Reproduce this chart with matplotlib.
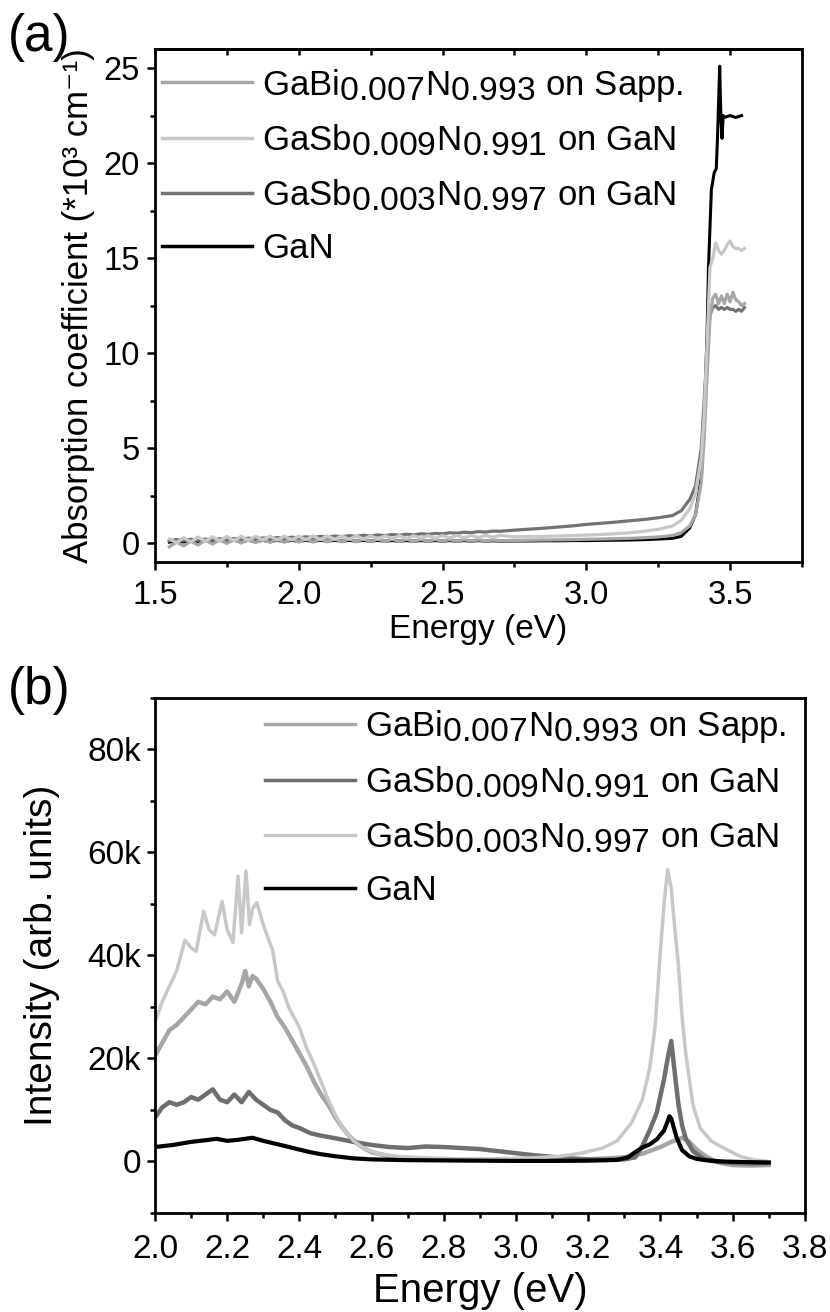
import numpy as np
import matplotlib
matplotlib.use("Agg")
import matplotlib.pyplot as plt
import matplotlib._mathtext as mtext
from matplotlib.ticker import MultipleLocator, FuncFormatter

# near full-size subscripts, like the Origin export
mtext.SHRINK_FACTOR = 0.97

plt.rcParams['font.family'] = ['Liberation Sans', 'DejaVu Sans']
plt.rcParams['mathtext.fontset'] = 'custom'
plt.rcParams['mathtext.rm'] = 'Liberation Sans'
plt.rcParams['mathtext.it'] = 'Liberation Sans:italic'
plt.rcParams['mathtext.bf'] = 'Liberation Sans:bold'
plt.rcParams['axes.linewidth'] = 2.0

################################################
########## (a) absorption coefficient ##########
################################################
E_LOW = [1.55, 1.575, 1.60, 1.625, 1.65, 1.675, 1.70, 1.725, 1.75, 1.775, 1.80, 1.825,
         1.85, 1.875, 1.90, 1.925, 1.95, 1.975, 2.00, 2.025, 2.05, 2.075, 2.10, 2.125,
         2.15, 2.175, 2.20, 2.225, 2.25, 2.275, 2.30, 2.325, 2.35, 2.375, 2.40, 2.425,
         2.45, 2.475, 2.50, 2.525, 2.55, 2.575, 2.60, 2.625, 2.65, 2.675, 2.70,
         2.75, 2.80, 2.85, 2.90, 2.95, 3.00, 3.05, 3.10, 3.15, 3.20, 3.25, 3.30]

bi_low = [-0.20, 0.05, -0.15, 0.10, -0.10, 0.15, -0.05, 0.18, -0.02, 0.20, 0.00, 0.22,
          0.02, 0.22, 0.03, 0.22, 0.04, 0.22, 0.05, 0.22, 0.05, 0.22, 0.06, 0.22,
          0.06, 0.22, 0.07, 0.21, 0.07, 0.21, 0.08, 0.20, 0.08, 0.20, 0.09, 0.19,
          0.09, 0.19, 0.10, 0.18, 0.10, 0.18, 0.11, 0.17, 0.11, 0.16, 0.12,
          0.14, 0.15, 0.16, 0.17, 0.18, 0.20, 0.21, 0.23, 0.25, 0.28, 0.32, 0.40]
sb9_low = [0.22, 0.02, 0.28, 0.06, 0.32, 0.08, 0.34, 0.10, 0.35, 0.12, 0.36, 0.13,
           0.36, 0.14, 0.37, 0.15, 0.37, 0.16, 0.37, 0.17, 0.38, 0.18, 0.38, 0.19,
           0.38, 0.20, 0.38, 0.21, 0.38, 0.22, 0.38, 0.23, 0.39, 0.24, 0.39, 0.25,
           0.39, 0.26, 0.40, 0.27, 0.40, 0.28, 0.40, 0.29, 0.40, 0.30, 0.40,
           0.33, 0.34, 0.35, 0.37, 0.39, 0.42, 0.45, 0.49, 0.54, 0.62, 0.72, 0.90]
sb3_low = [0.12, 0.18, 0.13, 0.20, 0.15, 0.21, 0.16, 0.23, 0.18, 0.24, 0.19, 0.26,
           0.21, 0.27, 0.23, 0.29, 0.25, 0.31, 0.27, 0.33, 0.29, 0.35, 0.31, 0.37,
           0.33, 0.39, 0.35, 0.41, 0.37, 0.43, 0.39, 0.45, 0.41, 0.47, 0.43, 0.49,
           0.46, 0.51, 0.49, 0.54, 0.52, 0.57, 0.55, 0.60, 0.58, 0.63, 0.62,
           0.68, 0.73, 0.78, 0.84, 0.90, 0.98, 1.04, 1.10, 1.17, 1.24, 1.33, 1.45]
gan_low = [0.05, 0.12, 0.06, 0.13, 0.07, 0.13, 0.07, 0.14, 0.08, 0.14, 0.08, 0.14,
           0.09, 0.14, 0.09, 0.14, 0.09, 0.14, 0.10, 0.14, 0.10, 0.14, 0.10, 0.14,
           0.10, 0.14, 0.10, 0.14, 0.10, 0.14, 0.10, 0.13, 0.10, 0.13, 0.10, 0.13,
           0.10, 0.13, 0.10, 0.13, 0.10, 0.13, 0.10, 0.13, 0.10, 0.12, 0.10,
           0.11, 0.11, 0.12, 0.12, 0.13, 0.13, 0.14, 0.15, 0.16, 0.18, 0.21, 0.25]

E_BI_EDGE = [3.33, 3.36, 3.38, 3.40, 3.41, 3.42, 3.43, 3.44, 3.45, 3.46, 3.47, 3.48,
             3.49, 3.50, 3.51, 3.52, 3.53, 3.54, 3.55]
bi_edge = [0.55, 0.9, 1.5, 3.2, 5.5, 8.8, 11.8, 12.9, 13.1, 12.6, 13.0, 12.6,
           13.1, 12.7, 13.2, 12.8, 12.7, 12.5, 12.6]
E_SB9_EDGE = [3.33, 3.36, 3.38, 3.40, 3.41, 3.42, 3.43, 3.44, 3.45, 3.46, 3.47, 3.48,
              3.49, 3.50, 3.51, 3.52, 3.53, 3.54, 3.55]
sb9_edge = [1.2, 1.8, 2.6, 4.5, 6.8, 10.5, 14.5, 15.0, 15.8, 15.4, 15.2, 15.4,
            15.7, 15.9, 15.6, 15.5, 15.5, 15.4, 15.5]
E_SB3_EDGE = [3.33, 3.36, 3.38, 3.40, 3.41, 3.42, 3.43, 3.44, 3.45, 3.46, 3.47, 3.48,
              3.49, 3.50, 3.51, 3.52, 3.53, 3.54, 3.55]
sb3_edge = [1.7, 2.3, 3.0, 5.0, 7.5, 10.0, 12.0, 12.4, 12.5, 12.3, 12.4, 12.3,
            12.4, 12.3, 12.3, 12.2, 12.3, 12.2, 12.4]
E_GAN_EDGE = [3.33, 3.36, 3.38, 3.40, 3.41, 3.42, 3.425, 3.435, 3.445, 3.452, 3.456,
              3.464, 3.468, 3.472, 3.476, 3.48, 3.50, 3.52, 3.54]
gan_edge = [0.35, 0.8, 1.5, 3.5, 6.5, 11.0, 14.5, 18.6, 19.5, 19.7, 21.2,
            25.1, 22.4, 21.3, 22.5, 22.4, 22.5, 22.4, 22.5]

################################################
############### (b) PL spectra #################
################################################
E_BI_PL = [2.00, 2.02, 2.04, 2.06, 2.08, 2.10, 2.12, 2.14, 2.16, 2.18, 2.20, 2.22,
           2.24, 2.25, 2.26, 2.27, 2.28, 2.30, 2.32, 2.34, 2.36, 2.38, 2.40, 2.42,
           2.44, 2.46, 2.48, 2.50, 2.52, 2.54, 2.56, 2.58, 2.60, 2.65, 2.70, 2.80,
           2.90, 3.00, 3.10, 3.20, 3.30, 3.35, 3.40, 3.43, 3.46, 3.48, 3.50, 3.53,
           3.56, 3.60, 3.65, 3.70]
bi_pl = [20.5, 23.0, 25.5, 26.5, 28.0, 29.5, 31.0, 30.5, 32.0, 31.5, 33.0, 31.0,
         34.5, 37.0, 34.0, 36.0, 35.5, 33.5, 31.0, 28.0, 26.0, 23.5, 21.0, 18.5,
         15.5, 13.0, 11.0, 8.5, 6.5, 4.8, 3.5, 2.5, 1.8, 1.0, 0.6, 0.4,
         0.3, 0.3, 0.3, 0.4, 0.8, 1.5, 2.8, 3.8, 4.6, 3.8, 2.3, 0.8,
         -0.2, -0.7, -0.8, -0.7]
E_SB9_PL = [2.00, 2.02, 2.04, 2.06, 2.08, 2.10, 2.12, 2.14, 2.16, 2.18, 2.20, 2.22,
            2.24, 2.26, 2.28, 2.30, 2.32, 2.34, 2.36, 2.38, 2.40, 2.43, 2.46, 2.50,
            2.55, 2.60, 2.65, 2.70, 2.75, 2.80, 2.85, 2.90, 2.95, 3.00, 3.05, 3.10,
            3.15, 3.20, 3.25, 3.30, 3.33, 3.35, 3.37, 3.39, 3.41, 3.42, 3.43, 3.44,
            3.45, 3.46, 3.47, 3.49, 3.52, 3.55, 3.60, 3.65, 3.70]
sb9_pl = [8.5, 10.5, 11.5, 11.0, 11.5, 12.5, 12.0, 13.0, 14.0, 12.0, 11.5, 13.0,
          11.5, 13.5, 12.0, 11.0, 10.0, 9.5, 8.0, 7.0, 6.5, 5.5, 5.0, 4.5,
          3.8, 3.2, 2.8, 2.6, 2.9, 2.8, 2.6, 2.4, 2.0, 1.6, 1.2, 0.9,
          0.6, 0.4, 0.3, 0.4, 0.8, 3.0, 6.0, 9.5, 16.0, 20.0, 23.4, 17.0,
          11.0, 7.0, 4.5, 2.0, 0.5, 0.0, -0.3, -0.4, -0.3]
E_SB3_PL = [2.00, 2.02, 2.04, 2.06, 2.083, 2.10, 2.114, 2.135, 2.15, 2.165, 2.186, 2.20,
            2.216, 2.23, 2.24, 2.252, 2.262, 2.27, 2.282, 2.30, 2.315, 2.326, 2.34, 2.355,
            2.37, 2.385, 2.40, 2.42, 2.44, 2.46, 2.48, 2.50, 2.52, 2.55, 2.58, 2.62,
            2.67, 2.75, 2.85, 2.95, 3.05, 3.12, 3.18, 3.24, 3.28, 3.32, 3.35, 3.37,
            3.385, 3.40, 3.41, 3.42, 3.43, 3.44, 3.45, 3.46, 3.47, 3.49, 3.51, 3.54,
            3.57, 3.62, 3.66, 3.70]
sb3_pl = [27.0, 31.0, 34.0, 37.0, 43.0, 41.5, 40.8, 48.6, 45.0, 44.0, 50.5, 45.0,
          42.5, 55.4, 44.4, 56.4, 46.0, 49.0, 50.3, 46.0, 43.0, 41.0, 35.0, 33.0,
          30.0, 28.0, 26.0, 22.0, 19.0, 15.5, 12.0, 9.0, 6.5, 4.0, 2.5, 1.5,
          1.0, 0.7, 0.5, 0.5, 0.7, 1.0, 1.6, 2.6, 4.0, 7.5, 12.0, 18.0,
          26.0, 41.0, 50.0, 56.7, 53.0, 45.0, 38.0, 28.0, 21.0, 11.0, 6.5, 4.0,
          2.8, 1.0, 0.3, 0.0]
E_GAN_PL = [2.00, 2.05, 2.10, 2.15, 2.17, 2.20, 2.23, 2.27, 2.30, 2.33, 2.36, 2.40,
            2.43, 2.46, 2.50, 2.55, 2.60, 2.70, 2.80, 2.90, 3.00, 3.10, 3.20, 3.28,
            3.31, 3.33, 3.35, 3.37, 3.39, 3.41, 3.42, 3.425, 3.43, 3.445, 3.46, 3.48,
            3.50, 3.53, 3.57, 3.62, 3.70]
gan_pl = [2.8, 3.2, 3.8, 4.2, 4.4, 4.0, 4.2, 4.6, 4.0, 3.5, 3.0, 2.3,
          1.8, 1.4, 1.0, 0.6, 0.4, 0.25, 0.2, 0.15, 0.1, 0.1, 0.15, 0.3,
          0.8, 1.8, 2.7, 3.3, 4.3, 6.0, 7.8, 8.8, 8.3, 4.6, 2.2, 1.0,
          0.5, 0.2, 0.0, -0.1, -0.2]

LABEL_BI = r'GaBi$_{0.007}$N$_{0.993}$ on Sapp.'
LABEL_SB9 = r'GaSb$_{0.009}$N$_{0.991}$ on GaN'
LABEL_SB3 = r'GaSb$_{0.003}$N$_{0.997}$ on GaN'
LABEL_GAN = 'GaN'

fig = plt.figure(figsize=(8.3, 13.12), dpi=100)
ax1 = fig.add_axes([0.1867, 0.5716, 0.7795, 0.391])
ax2 = fig.add_axes([0.1867, 0.0755, 0.783, 0.3925])

# ---- panel (a)
lg, = ax1.plot(E_LOW + E_GAN_EDGE, gan_low + gan_edge, color='black', lw=2.2, label=LABEL_GAN)
l3, = ax1.plot(E_LOW + E_SB3_EDGE, sb3_low + sb3_edge, color='#737373', lw=2.3, label=LABEL_SB3)
l1, = ax1.plot(E_LOW + E_BI_EDGE, bi_low + bi_edge, color='#a6a6a6', lw=2.3, label=LABEL_BI)
l2, = ax1.plot(E_LOW + E_SB9_EDGE, sb9_low + sb9_edge, color='#c8c8c8', lw=2.3, label=LABEL_SB9)
ax1.set_xlim(1.5, 3.75)
ax1.set_ylim(-1, 26)
ax1.xaxis.set_major_locator(MultipleLocator(0.5))
ax1.xaxis.set_minor_locator(MultipleLocator(0.25))
ax1.xaxis.set_major_formatter(FuncFormatter(lambda v, p: f'{v:.1f}'))
ax1.yaxis.set_major_locator(MultipleLocator(5))
ax1.yaxis.set_minor_locator(MultipleLocator(2.5))
ax1.tick_params(which='major', direction='out', length=6, width=1.8, labelsize=23.5)
ax1.tick_params(which='minor', direction='out', length=3.5, width=1.8)
ax1.tick_params(axis='x', which='major', pad=7)
ax1.tick_params(axis='y', which='major', pad=5)
top = ax1.secondary_xaxis('top')
top.xaxis.set_major_locator(MultipleLocator(0.25))
top.tick_params(direction='in', length=4.5, width=1.8, labeltop=False)
ax1.set_xlabel('Energy (eV)', fontsize=24, labelpad=2)
ax1.set_ylabel('Absorption coefficient (*10³ cm⁻¹)', fontsize=25, labelpad=6)
ax1.legend([l1, l2, l3, lg], [LABEL_BI, LABEL_SB9, LABEL_SB3, LABEL_GAN],
           loc='upper left', bbox_to_anchor=(0.011, 0.966), frameon=False, fontsize=25,
           handlelength=2.6, handletextpad=0.29, labelspacing=0.55, borderpad=0,
           borderaxespad=0)
for h in ax1.get_legend().get_lines():
    h.set_linewidth(2.5)

# ---- panel (b)
m1, = ax2.plot(E_BI_PL, np.array(bi_pl) * 1000, color='#a6a6a6', lw=3.2, label=LABEL_BI)
m2, = ax2.plot(E_SB9_PL, np.array(sb9_pl) * 1000, color='#6e6e6e', lw=3.2, label=LABEL_SB9)
m3, = ax2.plot(E_SB3_PL, np.array(sb3_pl) * 1000, color='#c8c8c8', lw=2.5, label=LABEL_SB3)
mg, = ax2.plot(E_GAN_PL, np.array(gan_pl) * 1000, color='black', lw=3.0, label=LABEL_GAN)
ax2.set_xlim(2.0, 3.8)
ax2.set_ylim(-10000, 90000)
ax2.xaxis.set_major_locator(MultipleLocator(0.2))
ax2.xaxis.set_minor_locator(MultipleLocator(0.1))
ax2.xaxis.set_major_formatter(FuncFormatter(lambda v, p: f'{v:.1f}'))
ax2.yaxis.set_major_locator(MultipleLocator(20000))
ax2.yaxis.set_minor_locator(MultipleLocator(10000))
ax2.yaxis.set_major_formatter(FuncFormatter(lambda v, p: '0' if abs(v) < 1 else f'{int(round(v / 1000))}k'))
ax2.tick_params(which='major', direction='out', length=6, width=1.8, labelsize=24)
ax2.tick_params(which='minor', direction='out', length=3.5, width=1.8)
ax2.tick_params(axis='x', which='major', pad=9)
ax2.tick_params(axis='y', which='major', pad=4)
ax2.set_xlabel('Energy (eV)', fontsize=29, labelpad=5)
ax2.set_ylabel('Intensity (arb. units)', fontsize=28, labelpad=20)
ax2.legend([m1, m2, m3, mg], [LABEL_BI, LABEL_SB9, LABEL_SB3, LABEL_GAN],
           loc='upper left', bbox_to_anchor=(0.169, 0.98), frameon=False, fontsize=25,
           handlelength=2.6, handletextpad=0.29, labelspacing=0.55, borderpad=0,
           borderaxespad=0)
for h in ax2.get_legend().get_lines():
    h.set_linewidth(2.5)

fig.text(0.010, 1 - 13 / 1312, '(a)', fontsize=37, va='top', ha='left')
fig.text(0.010, 1 - 666 / 1312, '(b)', fontsize=37, va='top', ha='left')

fig.savefig('out.png', dpi=100)
